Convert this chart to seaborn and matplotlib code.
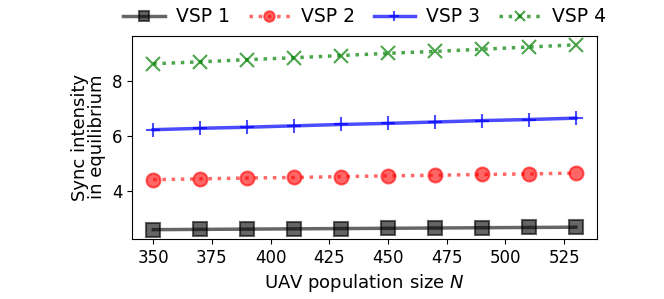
import seaborn as sns
import pandas as pd
from matplotlib import pyplot as plt

# UAV population sizes
population = [350, 370, 390, 410, 430, 450, 470, 490, 510, 530]

# sync intensity in equilibrium per VSP
vsp1 = [2.60, 2.61, 2.62, 2.63, 2.64, 2.65, 2.66, 2.67, 2.68, 2.69]
vsp2 = [4.42, 4.45, 4.48, 4.50, 4.53, 4.56, 4.58, 4.61, 4.63, 4.66]
vsp3 = [6.24, 6.29, 6.33, 6.38, 6.43, 6.47, 6.52, 6.57, 6.61, 6.66]
vsp4 = [8.64, 8.71, 8.79, 8.86, 8.94, 9.02, 9.09, 9.17, 9.25, 9.33]

names = ['VSP 1', 'VSP 2', 'VSP 3', 'VSP 4']
colors = ['black', 'red', 'blue', 'green']
markers = ['s', 'o', '+', 'x']
dashes = ['-', ':', '-', ':']
alphas = [0.6, 0.6, 0.7, 0.7]

plt.rcParams['font.family'] = ['DejaVu Sans']
plt.rcParams['font.size'] = 13

fig, ax = plt.subplots(figsize=(6.64, 2.99), dpi=100)
fig.subplots_adjust(left=0.199, right=0.899, bottom=0.201, top=0.881)

for name, vals, c, m, ls, a in zip(names, [vsp1, vsp2, vsp3, vsp4], colors, markers, dashes, alphas):
    df = pd.DataFrame({'N': population, 'y': vals})
    sns.lineplot(data=df, x='N', y='y', ax=ax, color=c, marker=m, linestyle=ls,
                 linewidth=2.5, markersize=10, markeredgewidth=1.5,
                 markeredgecolor=c, alpha=a, label=name)

ax.set_xticks([350, 375, 400, 425, 450, 475, 500, 525])
ax.set_yticks([4, 6, 8])
ax.tick_params(labelsize=12)
ax.set_xlabel('UAV population size $N$')
ax.set_ylabel('Sync intensity\nin equilibrium', linespacing=0.95)

ax.legend(loc='lower center', bbox_to_anchor=(0.5, 1.0), ncol=4, frameon=False,
          fontsize=13.5, markerscale=0.75, handlelength=2.2, columnspacing=1.0,
          handletextpad=0.6, borderaxespad=0.1)

fig.savefig('out.png', dpi=100)
